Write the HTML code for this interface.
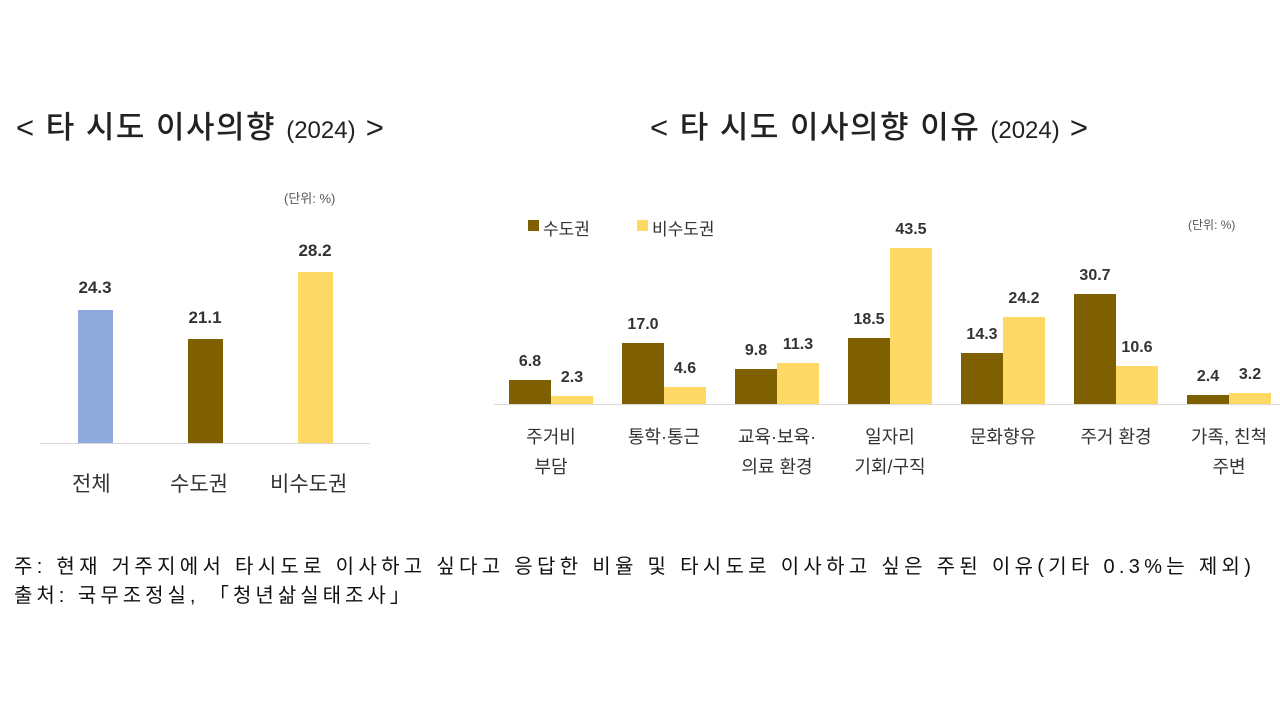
<!DOCTYPE html>
<html><head><meta charset="utf-8"><style>
body{margin:0;width:1280px;height:720px;background:#fff;position:relative;overflow:hidden;font-family:"Liberation Sans","Noto Sans CJK KR",sans-serif;color:#222}
.a{position:absolute;white-space:nowrap}
.bar{position:absolute}
.v{position:absolute;font-weight:bold;font-size:16px;color:#333;text-align:center;width:60px}
.c{position:absolute;font-size:18px;color:#333;text-align:center;width:112px;line-height:30px}
</style></head><body>
<div class="a" style="left:16px;top:102px;font-size:31px;letter-spacing:1.5px;font-weight:500">&lt; 타 시도 이사의향 <span style="font-size:24px;letter-spacing:0">(2024)</span> &gt;</div>
<div class="a" style="left:650px;top:102px;font-size:31px;letter-spacing:1.5px;font-weight:500">&lt; 타 시도 이사의향 이유 <span style="font-size:24px;letter-spacing:0">(2024)</span> &gt;</div>
<div class="a" style="left:284px;top:188px;font-size:13px;color:#555">(단위: %)</div>
<div class="a" style="left:40px;top:443px;width:330px;height:1px;background:#d9d9d9"></div>
<div class="bar" style="left:78px;top:310px;width:35px;height:133px;background:#8EA9DB"></div>
<div class="bar" style="left:188px;top:339px;width:35px;height:104px;background:#7F6000"></div>
<div class="bar" style="left:298px;top:272px;width:35px;height:171px;background:#FFD966"></div>
<div class="v" style="left:65px;top:278px;font-size:17px">24.3</div>
<div class="v" style="left:175px;top:308px;font-size:17px">21.1</div>
<div class="v" style="left:285px;top:241px;font-size:17px">28.2</div>
<div class="a" style="left:72px;top:468px;font-size:21px;color:#333">전체</div>
<div class="a" style="left:170px;top:468px;font-size:21px;color:#333">수도권</div>
<div class="a" style="left:270px;top:468px;font-size:21px;color:#333">비수도권</div>
<div class="a" style="left:528px;top:220px;width:11px;height:11px;background:#7F6000"></div>
<div class="a" style="left:543px;top:215px;font-size:17px;color:#333">수도권</div>
<div class="a" style="left:637px;top:220px;width:11px;height:11px;background:#FFD966"></div>
<div class="a" style="left:652px;top:215px;font-size:17px;color:#333">비수도권</div>
<div class="a" style="left:1188px;top:216px;font-size:12px;color:#555">(단위: %)</div>
<div class="a" style="left:494px;top:404px;width:790px;height:1px;background:#d9d9d9"></div>
<div id="r"></div>
<div class="a" style="left:14px;top:550px;font-size:20px;color:#111;letter-spacing:4.3px">주: 현재 거주지에서 타시도로 이사하고 싶다고 응답한 비율 및 타시도로 이사하고 싶은 주된 이유(기타 0.3%는 제외)</div>
<div class="a" style="left:14px;top:579px;font-size:20px;color:#111;letter-spacing:4px">출처: 국무조정실, 「청년삶실태조사」</div>
<script>
var d=[[6.8,2.3,"주거비<br>부담"],[17.0,4.6,"통학·통근"],[9.8,11.3,"교육·보육·<br>의료 환경"],[18.5,43.5,"일자리<br>기회/구직"],[14.3,24.2,"문화향유"],[30.7,10.6,"주거 환경"],[2.4,3.2,"가족, 친척<br>주변"]];
var h="",k=3.59,b=404;
d.forEach(function(g,i){var x=509+113*i;
[[g[0],"#7F6000",x],[g[1],"#FFD966",x+42]].forEach(function(s){var hh=s[0]*k;
h+='<div class="bar" style="left:'+s[2]+'px;top:'+(b-hh)+'px;width:42px;height:'+hh+'px;background:'+s[1]+'"></div>';
h+='<div class="v" style="left:'+(s[2]-9)+'px;top:'+(b-hh-27)+'px">'+s[0].toFixed(1)+'</div>';});
h+='<div class="c" style="left:'+(x-14)+'px;top:422px">'+g[2]+'</div>';});
document.getElementById("r").innerHTML=h;
</script>
</body></html>
